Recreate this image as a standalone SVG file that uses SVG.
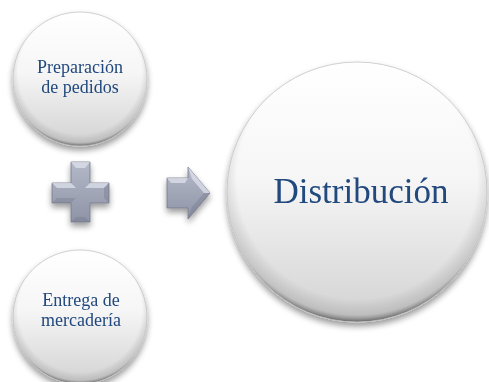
<svg xmlns="http://www.w3.org/2000/svg" width="489" height="382" viewBox="0 0 489 382">
<defs>
<linearGradient id="fillG" x1="0" y1="0" x2="0" y2="1">
<stop offset="0" stop-color="#ffffff"/>
<stop offset="0.45" stop-color="#f6f6f6"/>
<stop offset="1" stop-color="#d2d2d2"/>
</linearGradient>
<radialGradient id="rimG" cx="0.5" cy="0.45" r="0.55">
<stop offset="0.84" stop-color="#808080" stop-opacity="0"/>
<stop offset="0.95" stop-color="#8a8a8a" stop-opacity="0.3"/>
<stop offset="1" stop-color="#505050" stop-opacity="0.85"/>
</radialGradient>
<filter id="shadow" x="-20%" y="-20%" width="140%" height="150%">
<feGaussianBlur in="SourceAlpha" stdDeviation="3"/>
<feOffset dx="0" dy="4" result="b"/>
<feComponentTransfer><feFuncA type="linear" slope="0.4"/></feComponentTransfer>
<feMerge><feMergeNode/><feMergeNode in="SourceGraphic"/></feMerge>
</filter>
<linearGradient id="symG" x1="0" y1="0" x2="0" y2="1">
<stop offset="0" stop-color="#b4b9c8"/>
<stop offset="1" stop-color="#8e94a6"/>
</linearGradient>
<style>
.lbl{font-family:"Liberation Serif","Times New Roman",serif;fill:#21487e;text-anchor:middle}
.ring{fill:none;stroke:#c4c4c4;stroke-width:0.8}
.sym{fill:url(#symG);stroke:#737889;stroke-width:0.8}
.hi{fill:#dfe2ec;opacity:0.75}
.sh{fill:#6f7487;opacity:0.35}
</style>
</defs>

<g id="node-preparacion" filter="url(#shadow)">
<circle cx="80" cy="79" r="67" fill="url(#fillG)"/>
<circle cx="80" cy="79" r="67" fill="url(#rimG)"/>
<circle class="ring" cx="80" cy="79" r="67"/>
<text class="lbl" x="80" y="73" font-size="18">Preparación</text>
<text class="lbl" x="80" y="93" font-size="18">de pedidos</text>
</g>

<g id="node-entrega" filter="url(#shadow)">
<circle cx="80" cy="317" r="67" fill="url(#fillG)"/>
<circle cx="80" cy="317" r="67" fill="url(#rimG)"/>
<circle class="ring" cx="80" cy="317" r="67"/>
<text class="lbl" x="81" y="306" font-size="18">Entrega de</text>
<text class="lbl" x="81" y="326" font-size="18">mercadería</text>
</g>

<g id="node-distribucion" filter="url(#shadow)">
<circle cx="357" cy="192" r="130" fill="url(#fillG)"/>
<circle cx="357" cy="192" r="130" fill="url(#rimG)"/>
<circle class="ring" cx="357" cy="192" r="130"/>
<text class="lbl" x="361" y="203" font-size="35">Distribución</text>
</g>

<g id="connectors">
<g id="plus" filter="url(#shadow)">
<path class="sym" d="M71,162 H90 V183 H109 V203 H90 V222 H71 V203 H52 V183 H71 Z"/>
<path class="hi" d="M71,162 H90 L85,168 H76 Z"/>
<path class="hi" d="M52,183 H71 L76,188 H57 Z"/>
<path class="hi" d="M90,183 H109 L104,188 H85 Z"/>
<path class="sh" d="M52,203 L57,198 H76 L71,203 Z"/>
<path class="sh" d="M109,203 L104,198 V188 L109,183 Z"/>
<path class="sh" d="M71,222 L76,217 H85 L90,222 Z"/>
</g>
<g id="arrow" filter="url(#shadow)">
<path class="sym" d="M167,178 H188 V167 L210,193 L188,219 V208 H167 Z"/>
<path class="hi" d="M167,178 H188 L185,183 H171 Z"/>
<path class="hi" d="M188,167 L210,193 L204,193 L192,179 Z" opacity="0.55"/>
<path class="sh" d="M188,219 L210,193 L204,193 L192,207 Z"/>
</g>
</g>
</svg>
